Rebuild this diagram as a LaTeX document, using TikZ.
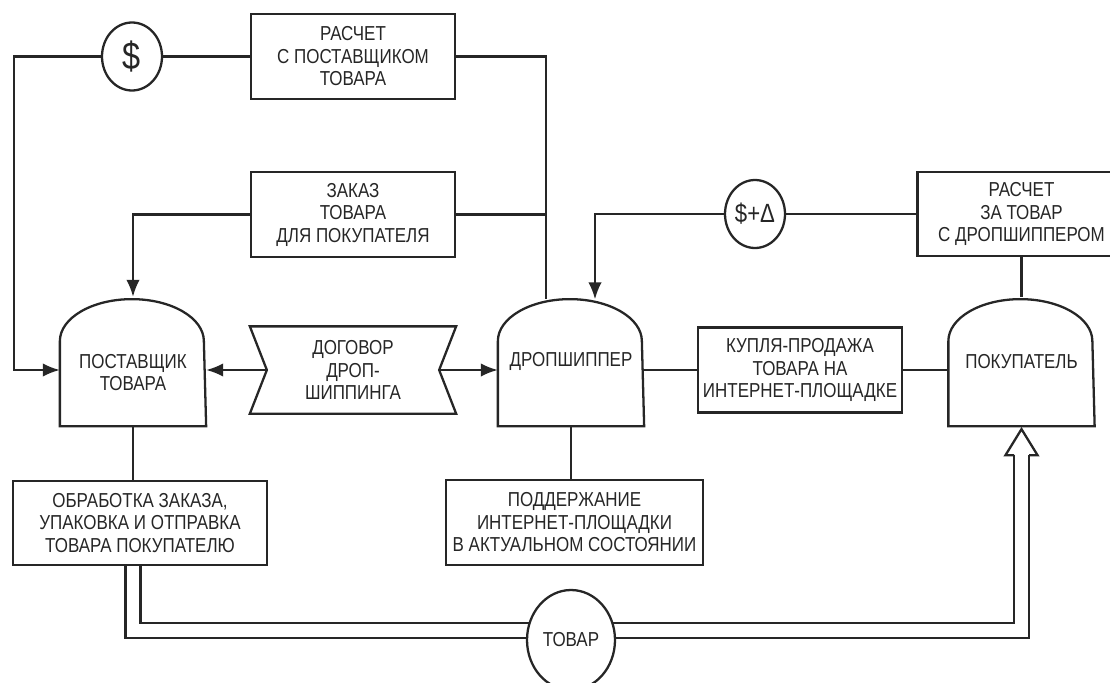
\documentclass[tikz,border=0pt]{standalone}
\usepackage{fontspec}
\setmainfont{Liberation Sans}[FakeStretch=0.84]
\usepackage{tikz}
\usetikzlibrary{arrows.meta,positioning,shapes.geometric}

\begin{document}
\begin{tikzpicture}[>={Latex[length=0.34cm,width=0.27cm]}, line width=1.3pt, color=black!85, node distance=3cm, on grid,
   every node/.style={font=\fontsize{11.5}{12.8}\selectfont, align=center},
   box/.style={draw, minimum width=4.08cm, minimum height=1.7cm, inner sep=0pt},
   agent/.style={minimum width=2.88cm, minimum height=2.54cm, inner sep=0pt},
   coin/.style={draw, ellipse, fill=white, minimum width=1.2cm, minimum height=1.36cm, inner sep=0pt},
   goodsline/.style={double=white, double distance=7.2pt}]
   \useasboundingbox (0,0) rectangle (22.2,13.64);
   \clip (0,0) rectangle (22.2,13.64);

   \node[coin, font=\fontsize{22}{24}\selectfont] (dol) at (2.64,12.51) {\$};
   \node[box] (pay1) at (7.06,12.51) {РАСЧЕТ\\С ПОСТАВЩИКОМ\\ТОВАРА};
   \node[box] (order) [below=3.16cm of pay1] {ЗАКАЗ\\ТОВАРА\\ДЛЯ ПОКУПАТЕЛЯ};

   \node[agent, label={[yshift=-0.22cm]center:{ПОСТАВЩИК\\ТОВАРА}}] (sup) at (2.66,6.41) {};
   \node[agent] (drop) [right=8.76cm of sup] {ДРОПШИППЕР};
   \node[agent] (buy) [right=9.01cm of drop] {ПОКУПАТЕЛЬ};
   \node[box, draw=none] (deal) at (7.06,6.24) {ДОГОВОР\\ДРОП-\\ШИППИНГА};
   \node[box] (sale) at (16.0,6.24) {КУПЛЯ-ПРОДАЖА\\ТОВАРА НА\\ИНТЕРНЕТ-ПЛОЩАДКЕ};

   \node[box, minimum width=4.16cm, minimum height=1.68cm] (pay2) [above=2.95cm of buy] {РАСЧЕТ\\ЗА ТОВАР\\С ДРОПШИППЕРОМ};
   \node[coin, font=\fontsize{15}{17}\selectfont] (dd) [left=5.33cm of pay2] {\$+Δ};

   \node[box, minimum width=5.08cm, minimum height=1.68cm] (proc) at (2.80,3.18) {ОБРАБОТКА ЗАКАЗА,\\УПАКОВКА И ОТПРАВКА\\ТОВАРА ПОКУПАТЕЛЮ};
   \node[box, minimum width=5.14cm] (keep) at (11.49,3.19) {ПОДДЕРЖАНИЕ\\ИНТЕРНЕТ-ПЛОЩАДКИ\\В АКТУАЛЬНОМ СОСТОЯНИИ};

   \coordinate (corner) at (0.28,12.51);
   \coordinate (dl) at ([xshift=0.34cm]deal.west);
   \coordinate (dr) at ([xshift=-0.34cm]deal.east);
   \coordinate (dropin) at ([xshift=-0.5cm,yshift=-0.05cm]drop.north);
   \coordinate (ddin) at ([xshift=0.48cm,yshift=-0.05cm]drop.north);
   \coordinate (route) at (0,1.03);

   % outlines of the participants and of the contract
   \foreach \n in {sup,drop,buy}
      \draw (\n.south west) -- ++(0,1.7) arc[start angle=180, end angle=0, x radius=1.44cm, y radius=0.84cm] -- (\n.south east) -- cycle;
   \draw (deal.north west) -- (deal.north east) -- (dr) -- (deal.south east) -- (deal.south west) -- (dl) -- cycle;

   \draw (pay1) -- (dol);
   \draw[->] (dol) -- (corner) |- (sup.west |- dl);
   \draw (pay1.east) -| (dropin);
   \draw (order.east) -- (order.east -| dropin);
   \draw[->] (order.west) -| (sup.north);
   \draw[->] (dl) -- (sup.east |- dl);
   \draw[->] (dr) -- (drop.west |- dr);
   \draw (pay2) -- (dd);
   \draw[->] (dd.west) -| (ddin);
   \draw (pay2) -- (buy);
   \draw (sale.west -| drop.east) -- (sale.west);
   \draw (sale.east) -- (sale.east -| buy.west);
   \draw (sup.south) -- (sup.south |- proc.north);
   \draw (drop.south) -- (drop.south |- keep.north);

   % goods flow
   \draw[goodsline] (sup.south |- proc.south) -- (sup.south |- route) -- (buy.south |- route) -- ([yshift=-0.58cm]buy.south);
   \draw ([shift={(-0.15cm,-0.58cm)}]buy.south) -- ++(-0.17,0) -- ([yshift=-0.06cm]buy.south) -- ([shift={(0.32cm,-0.58cm)}]buy.south) -- ++(-0.17,0);
   \node[coin, minimum width=1.76cm, minimum height=2cm] (goods) at (11.42,0.84) {ТОВАР};
\end{tikzpicture}
\end{document}
